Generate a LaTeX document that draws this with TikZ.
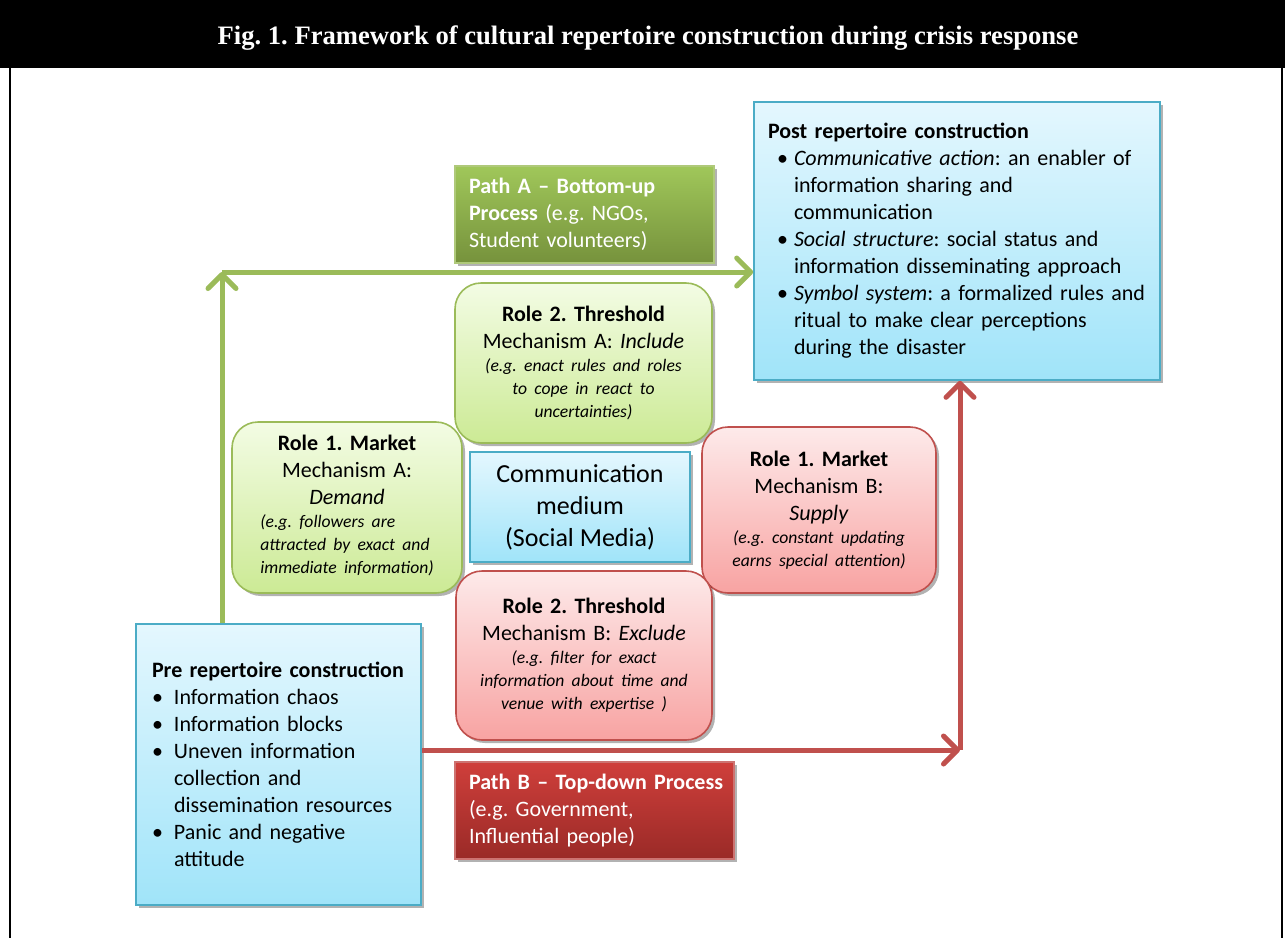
\documentclass[tikz,border=0pt]{standalone}
\usepackage{fontspec}
\setmainfont{Carlito}
\newfontfamily\titlefont{Liberation Serif}
\usetikzlibrary{arrows.meta,shadows}

\definecolor{cyanline}{HTML}{4BACC6}
\definecolor{cyantop}{HTML}{E4F7FE}
\definecolor{cyanbot}{HTML}{A0E4F9}
\definecolor{grnline}{HTML}{9BBB59}
\definecolor{grntop}{HTML}{F3FCE4}
\definecolor{grnbot}{HTML}{CCEA95}
\definecolor{redline}{HTML}{C0504D}
\definecolor{redtop}{HTML}{FDEAEA}
\definecolor{redbot}{HTML}{F8A3A2}
\definecolor{pathAtop}{HTML}{A0C75A}
\definecolor{pathAbot}{HTML}{76923C}
\definecolor{pathBtop}{HTML}{CF3F3B}
\definecolor{pathBbot}{HTML}{9A2A27}

\newcommand{\itm}[2][0pt]{\par\hangindent=#2\hangafter=1\noindent\makebox[#2][l]{\hspace{#1}\textbullet}}
\newcommand{\eg}{\fontsize{8.8}{11.5}\selectfont\itshape}

\tikzset{
  shade/.style={drop shadow={shadow xshift=1.5pt,shadow yshift=-1.5pt,opacity=0.3,fill=black}},
  cyanbox/.style={shade,draw=cyanline,line width=0.8pt,top color=cyantop,bottom color=cyanbot},
  greenrole/.style={shade,draw=grnline,line width=0.8pt,rounded corners=13pt,top color=grntop,bottom color=grnbot,align=center},
  redrole/.style={shade,draw=redline,line width=0.8pt,rounded corners=13pt,top color=redtop,bottom color=redbot,align=center},
  pathbox/.style={shade,line width=0.6pt,text=white,align=left,inner xsep=7pt,minimum height=48.5pt},
  arrA/.style={draw=grnline,line width=2.5pt,-{Straight Barb[length=7pt,width=14pt,round]}},
  arrB/.style={draw=redline,line width=2.5pt,-{Straight Barb[length=7pt,width=14pt,round]}}
}

\begin{document}
\frenchspacing
\begin{tikzpicture}[x=0.5pt,y=-0.5pt,font=\fontsize{11}{13.5}\selectfont]
\useasboundingbox (0,0) rectangle (1285,938);
\fill[black] (0,0) rectangle (1285,68);
\draw[line width=0.8pt] (10,68) -- (10,938) (1282,68) -- (1282,938);
\node[text=white,font=\titlefont\bfseries\fontsize{13.3}{16}\selectfont] (title) at (648,38)
  {Fig. 1. Framework of cultural repertoire construction during crisis response};

\node[cyanbox,text width=189pt,inner xsep=7pt,minimum height=139pt,align=left] (post) at (957,241)
  {\textbf{Post repertoire construction}%
   \itm[4.5pt]{13pt}\textit{Communicative action}: an enabler of\newline information sharing and\newline communication%
   \itm[4.5pt]{13pt}\textit{Social structure}: social status and\newline information disseminating approach%
   \itm[4.5pt]{13pt}\textit{Symbol system}: a formalized rules and\newline ritual to make clear perceptions\newline during the disaster\par};

\node[cyanbox,text width=126.5pt,inner xsep=8pt,minimum height=140.5pt,align=left] (pre) at (278.5,764.5)
  {\textbf{Pre repertoire construction}%
   \itm{11pt}Information chaos%
   \itm{11pt}Information blocks%
   \itm{11pt}Uneven information\newline collection and\newline dissemination resources%
   \itm{11pt}Panic and negative\newline attitude\par};

\node[pathbox,draw=grnline!80!white,top color=pathAtop,bottom color=pathAbot,text width=115.5pt] (pA) at (584.5,214.5)
  {\textbf{Path A -- Bottom-up}\\ \textbf{Process} (e.g. NGOs,\\ Student volunteers)};

\node[pathbox,draw=redline!80!white,top color=pathBtop,bottom color=pathBbot,text width=125.5pt] (pB) at (594.5,810.5)
  {\mbox{\textbf{Path B -- Top-down Process}}\\ (e.g. Government,\\ Influential people)};

\node[greenrole,minimum width=128.5pt,minimum height=80pt,text width=120pt] (thrA) at (583.5,363)
  {\textbf{Role 2. Threshold}\\ Mechanism A: \textit{Include}\par
   {\eg (e.g. enact rules and roles\\ to cope in react to\\ uncertainties)\par}};

\node[greenrole,minimum width=115pt,minimum height=85.5pt,text width=105pt] (mktA) at (347,507.5)
  {\textbf{Role 1. Market}\\ Mechanism A:\\ \textit{Demand}\par
   {\eg\begin{tabular}[t]{@{}l@{}}(e.g. followers are\\ attracted by exact and\\ immediate information)\end{tabular}\par}};

\node[cyanbox,minimum width=110pt,minimum height=55pt,align=center,font=\fontsize{13}{16}\selectfont] (comm) at (580,507)
  {Communication\\ medium\\ (Social Media)};

\node[redrole,minimum width=117pt,minimum height=83pt,text width=108pt] (mktB) at (819,510)
  {\textbf{Role 1. Market}\\ Mechanism B:\\ \textit{Supply}\par
   {\eg (e.g. constant updating\\ earns special attention)\par}};

\node[redrole,minimum width=128pt,minimum height=84.5pt,text width=120pt] (thrB) at (584,655.5)
  {\textbf{Role 2. Threshold}\\ Mechanism B: \textit{Exclude}\par
   {\eg (e.g. filter for exact\\ information about time and\\ venue with expertise )\par}};

\coordinate (aup) at (222,272);
\coordinate (bturn) at (960,750);
\draw[arrA] (aup |- pre.north) -- (aup);
\draw[arrA] (aup) -- (aup -| post.west);
\draw[arrB] (pre.east |- bturn) -- (bturn);
\draw[arrB] (bturn) -- (bturn |- post.south);
\end{tikzpicture}
\end{document}
